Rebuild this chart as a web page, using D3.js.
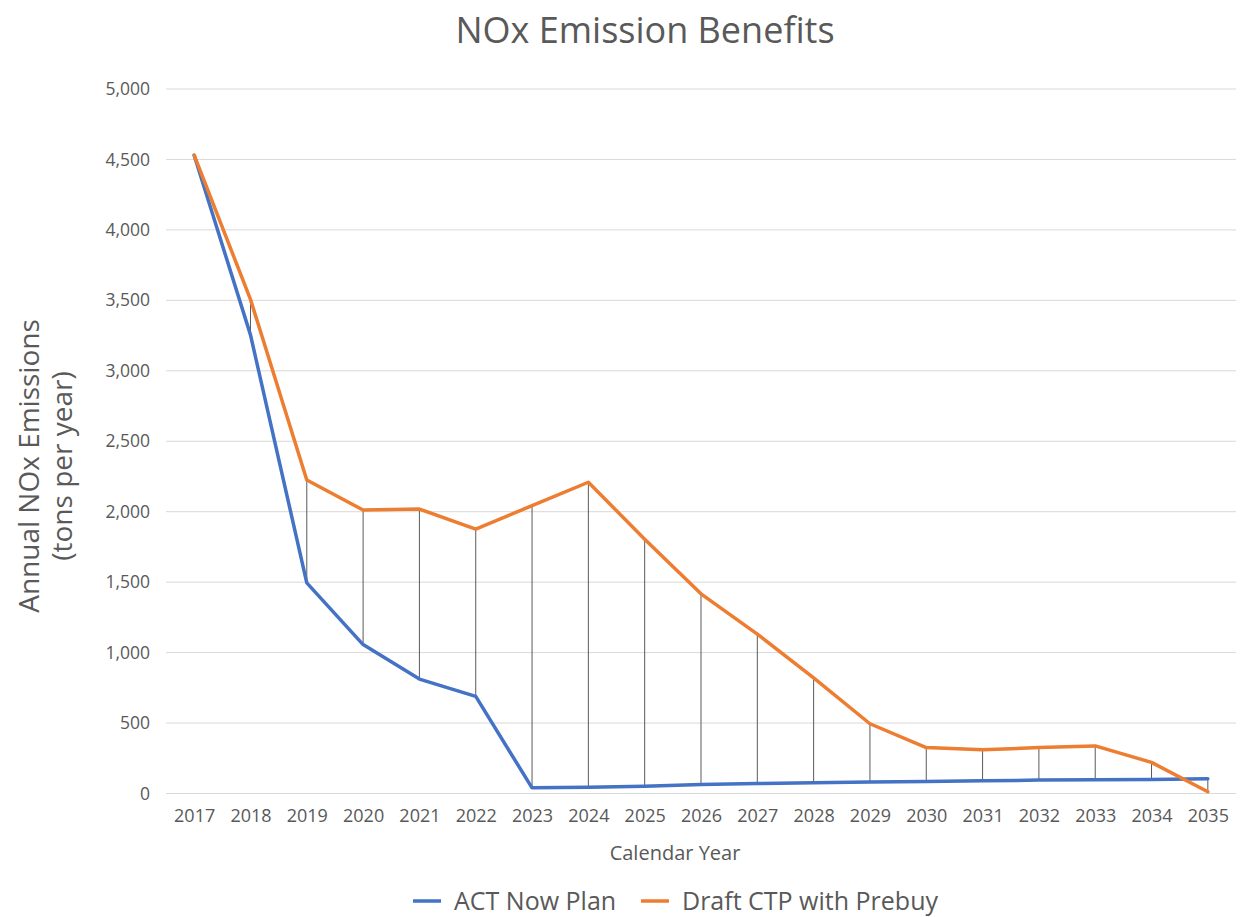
<!DOCTYPE html>
<html>
<head>
<meta charset="utf-8">
<script src="https://cdn.jsdelivr.net/npm/d3@7"></script>
<style>
  body { margin: 0; background: #fff; }
  svg { font-family: "Open Sans", sans-serif; }
</style>
</head>
<body>
<svg id="chart" width="1243" height="917"></svg>
<script>
// data
const years = ['2017','2018','2019','2020','2021','2022','2023','2024','2025','2026',
  '2027','2028','2029','2030','2031','2032','2033','2034','2035'];
const actNow = [4530, 3255, 1495, 1057, 812, 689, 40, 45, 52, 64, 71, 76, 81, 86, 90, 95, 98, 100, 105];
const draftCtp = [4530, 3507, 2225, 2012, 2019, 1876, 2043, 2209, 1805, 1417, 1131, 821, 495, 326, 310, 326, 338, 221, 12];
const yTicks = [0, 500, 1000, 1500, 2000, 2500, 3000, 3500, 4000, 4500, 5000];
const seriesNames = ['ACT Now Plan', 'Draft CTP with Prebuy'];
const colors = ['#4472C4', '#ED7D31'];

const svg = d3.select('#chart');
const plotLeft = 166, plotRight = 1236, plotTop = 89, plotBottom = 793.5;
const textCol = '#595959';
const font = '"Open Sans", sans-serif';

const x = d3.scalePoint().domain(years).range([plotLeft, plotRight]).padding(0.5);
const y = d3.scaleLinear().domain([0, 5000]).range([plotBottom, plotTop]);

// title
svg.append('text')
  .attr('x', 645).attr('y', 43)
  .attr('text-anchor', 'middle')
  .attr('font-size', 36)
  .attr('fill', textCol)
  .text('NOx Emission Benefits');

// gridlines
svg.append('g').selectAll('line')
  .data(yTicks).enter().append('line')
  .attr('x1', plotLeft).attr('x2', plotRight)
  .attr('y1', d => y(d)).attr('y2', d => y(d))
  .attr('stroke', '#d9d9d9').attr('stroke-width', 1);

// y axis labels
const yAxis = svg.append('g')
  .attr('transform', `translate(${plotLeft - 16},0)`)
  .call(d3.axisLeft(y).tickValues(yTicks).tickFormat(d3.format(',')).tickSize(0).tickPadding(0));
yAxis.select('.domain').remove();
yAxis.selectAll('text').attr('font-size', 17.5).attr('fill', textCol).attr('font-family', font);

// x axis labels
const xAxis = svg.append('g')
  .attr('transform', `translate(0,${plotBottom + 16})`)
  .call(d3.axisBottom(x).tickSize(0).tickPadding(0));
xAxis.select('.domain').remove();
xAxis.selectAll('text').attr('font-size', 18).attr('fill', textCol).attr('font-family', font);

// axis titles
svg.append('text')
  .attr('x', 675).attr('y', 860)
  .attr('text-anchor', 'middle')
  .attr('font-size', 20).attr('fill', textCol)
  .text('Calendar Year');

const yTitle = svg.append('text')
  .attr('transform', 'translate(46,466) rotate(-90)')
  .attr('text-anchor', 'middle')
  .attr('font-size', 28).attr('fill', textCol);
yTitle.append('tspan').attr('x', 0).attr('dy', -7).text('Annual NOx Emissions');
yTitle.append('tspan').attr('x', 0).attr('dy', 33).text('(tons per year)');

// high-low drop lines
svg.append('g').selectAll('line')
  .data(years).enter().append('line')
  .attr('x1', d => x(d)).attr('x2', d => x(d))
  .attr('y1', (d, i) => y(actNow[i])).attr('y2', (d, i) => y(draftCtp[i]))
  .attr('stroke', '#5a5a5a').attr('stroke-width', 1);

// series lines
const line = d3.line().x((d, i) => x(years[i])).y(d => y(d));
[actNow, draftCtp].forEach((s, k) => {
  svg.append('path')
    .datum(s)
    .attr('d', line)
    .attr('fill', 'none')
    .attr('stroke', colors[k])
    .attr('stroke-width', 3.5)
    .attr('stroke-linejoin', 'round')
    .attr('stroke-linecap', 'round');
});

// legend
const legendPos = [413, 641];
seriesNames.forEach((name, k) => {
  const g = svg.append('g').attr('transform', `translate(${legendPos[k]},901)`);
  g.append('line').attr('x1', 0).attr('x2', 28).attr('y1', 0).attr('y2', 0)
    .attr('stroke', colors[k]).attr('stroke-width', 3.5);
  g.append('text').attr('x', 41).attr('y', 9)
    .attr('font-size', 25).attr('fill', textCol)
    .text(name);
});
</script>
</body>
</html>
